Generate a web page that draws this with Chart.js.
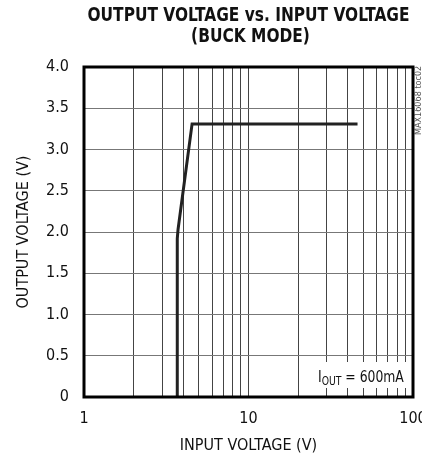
<!DOCTYPE html>
<html>
<head>
<meta charset="utf-8">
<script src="https://cdn.jsdelivr.net/npm/chart.js@4"></script>
<style>
  html, body { margin: 0; padding: 0; background: #fff; }
  #wrap { width: 422px; height: 460px; }
</style>
</head>
<body>
<div id="wrap"><canvas id="myChart" width="422" height="460"></canvas></div>
<script>
// input voltage (V) and output voltage (V)
const vin  = [3.69, 3.69, 3.73, 4.54, 46];
const vout = [0.00, 1.92, 2.03, 3.31, 3.31];

const xTicks = [1, 2, 3, 4, 5, 6, 7, 8, 9, 10, 20, 30, 40, 50, 60, 70, 80, 90, 100];
const xLabels = [1, 10, 100];
const yTicks = [0, 0.5, 1, 1.5, 2, 2.5, 3, 3.5, 4];

const narrow = "'Liberation Sans Narrow', 'DejaVu Sans Condensed', sans-serif";

// draw text squeezed to a given width
function squeeze(c, txt, x, y, w) {
  const k = w / c.measureText(txt).width;
  c.save();
  c.translate(x, y);
  c.scale(k, 1);
  c.fillText(txt, 0, 0);
  c.restore();
  return k;
}

// title, frame and the current note
const extras = {
  id: 'extras',
  afterDraw(chart) {
    const c = chart.ctx;
    const a = chart.chartArea;
    c.save();
    c.fillStyle = '#111';
    c.textAlign = 'center';
    c.textBaseline = 'middle';
    c.font = 'bold 20px ' + narrow;
    const cx = (a.left + a.right) / 2;
    const k = squeeze(c, 'OUTPUT VOLTAGE vs. INPUT VOLTAGE', cx, 16, 322);
    c.save();
    c.translate(cx + 2, 37);
    c.scale(k, 1);
    c.fillText('(BUCK MODE)', 0, 0);
    c.restore();

    // note box
    c.fillStyle = '#fff';
    c.fillRect(a.right - 104, a.bottom - 35, 102, 26);
    c.fillStyle = '#111';
    c.textAlign = 'left';
    c.textBaseline = 'alphabetic';
    c.save();
    c.translate(a.right - 95, a.bottom - 15);
    c.scale(0.86, 1);
    let x = 0;
    c.font = '16px ' + narrow;
    c.fillText('I', x, 0);
    x += c.measureText('I').width;
    c.font = '12px ' + narrow;
    c.fillText('OUT', x, 3);
    x += c.measureText('OUT').width;
    c.font = '16px ' + narrow;
    c.fillText(' = 600mA', x, 0);
    c.restore();

    // frame
    c.strokeStyle = '#000';
    c.lineWidth = 3;
    c.strokeRect(a.left, a.top, a.right - a.left, a.bottom - a.top);

    // side code
    c.translate(a.right + 6, a.top + 68);
    c.rotate(-Math.PI / 2);
    c.font = '9px ' + narrow;
    c.fillStyle = '#555';
    c.textBaseline = 'middle';
    c.fillText('MAX16068 toc02', 0, 0);
    c.restore();
  }
};

new Chart(document.getElementById('myChart'), {
  type: 'line',
  data: {
    datasets: [{
      data: vin.map((v, i) => ({ x: v, y: vout[i] })),
      borderColor: '#222',
      borderWidth: 3,
      pointRadius: 0,
      fill: false,
      tension: 0
    }]
  },
  plugins: [extras],
  options: {
    responsive: false,
    animation: false,
    layout: { padding: { top: 67, right: 9, left: 0, bottom: 0 } },
    plugins: { legend: { display: false }, tooltip: { enabled: false } },
    scales: {
      x: {
        type: 'logarithmic',
        min: 1,
        max: 100,
        afterBuildTicks: s => { s.ticks = xTicks.map(v => ({ value: v })); },
        afterFit: s => { s.height = 63; s.paddingLeft = 0; s.paddingRight = 0; },
        grid: { color: '#444', lineWidth: 1, drawTicks: false },
        border: { display: false },
        ticks: {
          autoSkip: false,
          maxRotation: 0,
          padding: 12,
          color: '#111',
          font: { family: narrow, size: 16 },
          callback: v => xLabels.includes(v) ? String(v) : ''
        },
        title: {
          display: true,
          text: 'INPUT VOLTAGE (V)',
          color: '#111',
          font: { family: narrow, size: 16 },
          padding: { top: 4, bottom: 5 }
        }
      },
      y: {
        min: 0,
        max: 4,
        afterBuildTicks: s => { s.ticks = yTicks.map(v => ({ value: v })); },
        afterFit: s => { s.width = 84; s.paddingTop = 0; s.paddingBottom = 0; },
        grid: { color: '#777', lineWidth: 1, drawTicks: false },
        border: { display: false },
        ticks: {
          padding: 15,
          color: '#111',
          font: { family: narrow, size: 16 },
          callback: v => v === 0 ? '0' : v.toFixed(1)
        },
        title: {
          display: true,
          text: 'OUTPUT VOLTAGE (V)',
          color: '#111',
          font: { family: narrow, size: 16 },
          padding: { top: 14, bottom: 4 }
        }
      }
    }
  }
});
</script>
</body>
</html>
